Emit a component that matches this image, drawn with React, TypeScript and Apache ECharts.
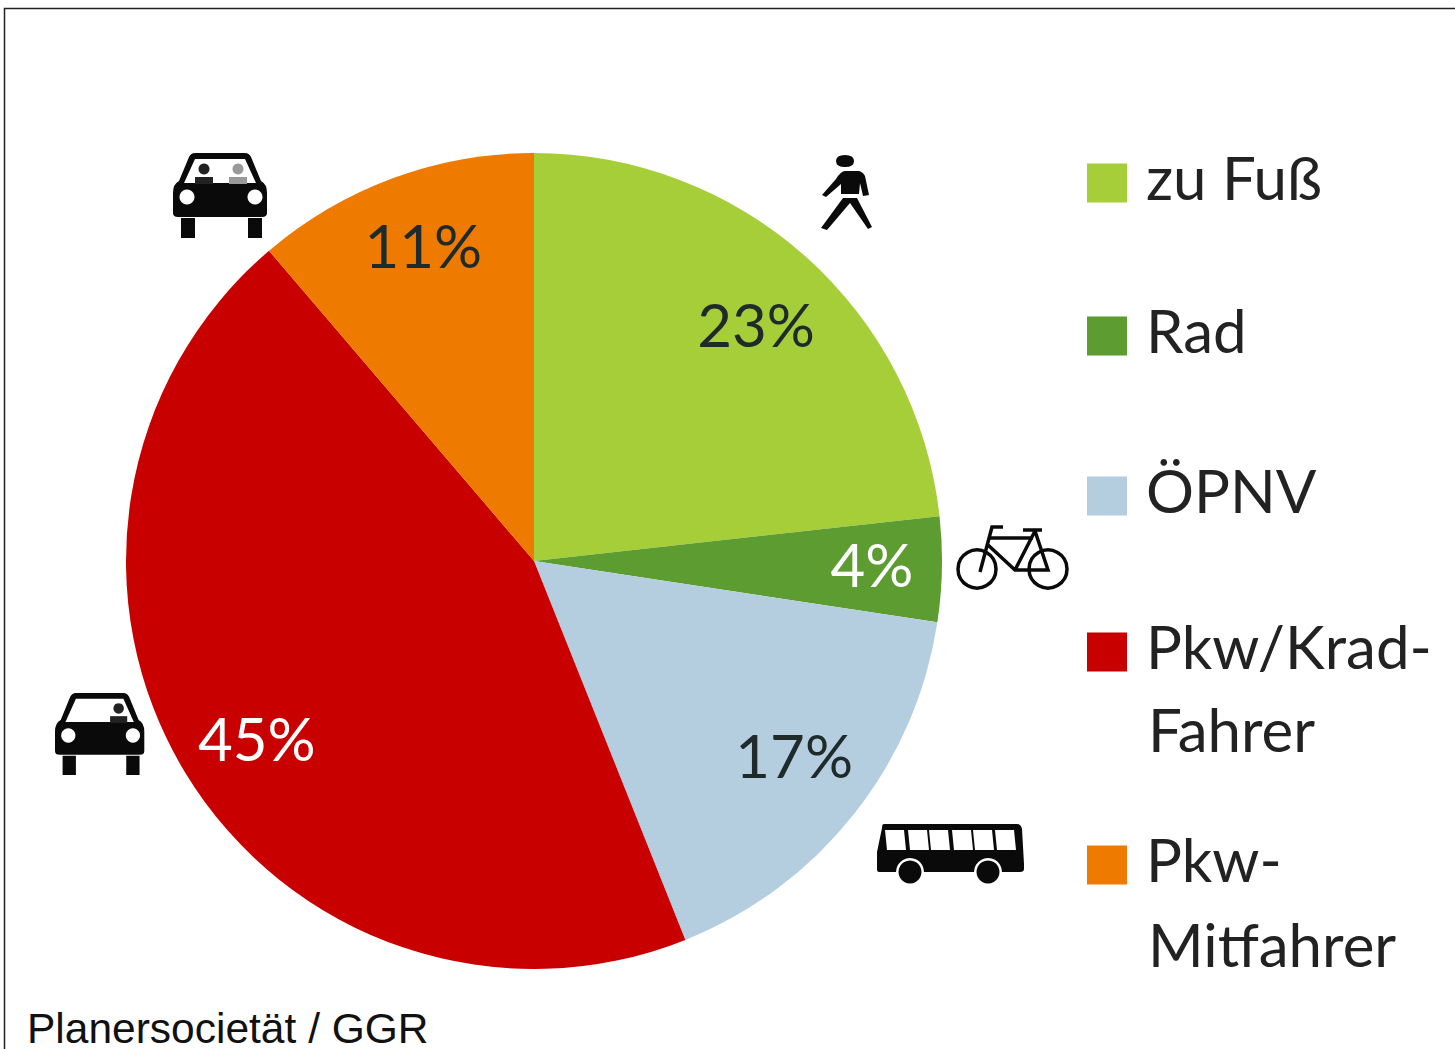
import React, { useEffect, useRef } from "react";
import * as echarts from "echarts";

const categories = ["zu Fuß", "Rad", "ÖPNV", "Pkw/Krad-Fahrer", "Pkw-Mitfahrer"];
const values = [23.25, 4.15, 16.55, 44.8, 11.25];
const colors = ["#A6CE39", "#5C9C31", "#B4CEE0", "#C80000", "#EE7B00"];
const labelColors = ["#1f2a2a", "#ffffff", "#1f2a2a", "#ffffff", "#1f2a2a"];
const legendFirstLines = ["zu Fuß", "Rad", "ÖPNV", "Pkw/Krad-", "Pkw-"];
const legendSecondLines = ["", "", "", "Fahrer", "Mitfahrer"];
const legendSecondLineY = [0, 0, 0, 729, 944];
const legendTops = [147, 300, 460, 616, 829];
const labelShift = [[84, -83], [131, -1], [98, 65], [-100, 70], [-39, -122]];
const footer = "Planersocietät / GGR";

const FONT = "Lato";

echarts.graphic.registerShape("carBody", echarts.graphic.extendPath(
  "M22 0 L72 0 Q76 0 78 4 L88 28 Q94 31 94 40 L94 60 Q94 64 89 64 L5 64 Q0 64 0 60 L0 40 Q0 31 6 28 L16 4 Q18 0 22 0 Z M75 65 L89 65 L89 85 L75 85 Z M8 65 L22 65 L22 85 L8 85 Z", {}));
echarts.graphic.registerShape("windscreen", echarts.graphic.extendPath(
  "M22 6 L72 6 L83 30 L11 30 Z", {}));
echarts.graphic.registerShape("walker", echarts.graphic.extendPath(
  "M24 -1 Q33 -1 33 5 Q33 11 24 11 Q15 11 15 5 Q15 -1 24 -1 Z M24 15 L38 15 Q42 16 44 20 L48 39 L42 40 L39 27 L38 38 L20 38 L20 28 L5 41 L1 39 L15 23 Q20 15 24 15 Z M22 42 L36 42 L51 71 L47 73 L29 47 L6 74 L0 72 Z", {}));
echarts.graphic.registerShape("bikeFrame", echarts.graphic.extendPath(
  "M46 2 L35 2 L23 47 M33 13 L76 13 M66 5 L85 5 M78 6 L58 45 M31 20 L58 45 L91 45 L78 6", {}));
echarts.graphic.registerShape("busBody", echarts.graphic.extendPath(
  "M7 0 L140 0 Q144 0 145 5 L147 40 L147 45 Q147 48 143 48 L2 48 Q0 48 0 45 L0 28 L5 4 Q5 0 7 0 Z", {}));
echarts.graphic.registerShape("busWindow", echarts.graphic.extendPath(
  "M0 0 L19 0 L21 20 L2 20 Z", {}));

const ink = { fill: "#0a0a0a" };
const white = { fill: "#ffffff" };

function car(x: number, y: number, sx: number, sy: number, people: { px: number; shade: string }[]) {
  return {
    type: "group", x, y, scaleX: sx, scaleY: sy, silent: true,
    children: [
      { type: "carBody", style: ink },
      { type: "windscreen", style: white },
      ...people.flatMap(({ px, shade }) => [
        { type: "circle", shape: { cx: px, cy: 16, r: 5.5 }, style: { fill: shade } },
        { type: "rect", shape: { x: px - 9, y: 24, width: 18, height: 7 }, style: { fill: shade } },
      ]),
      { type: "circle", shape: { cx: 14, cy: 44, r: 7.5 }, style: white },
      { type: "circle", shape: { cx: 82, cy: 44, r: 7.5 }, style: white },
    ],
  };
}

function bike(x: number, y: number) {
  const line = { fill: "none", stroke: "#0a0a0a", lineWidth: 3.5 };
  return {
    type: "group", x, y, silent: true,
    children: [
      { type: "circle", shape: { cx: 20, cy: 44, r: 19 }, style: line },
      { type: "circle", shape: { cx: 91, cy: 44, r: 19 }, style: line },
      { type: "bikeFrame", style: line },
    ],
  };
}

function bus(x: number, y: number) {
  const wheels = [33, 111];
  const windows = [8, 31, 52, 75, 96, 118];
  return {
    type: "group", x, y, silent: true,
    children: [
      { type: "busBody", style: ink },
      ...windows.map((wx) => ({ type: "busWindow", x: wx, y: 6, style: white })),
      ...wheels.flatMap((cx) => [
        { type: "circle", shape: { cx, cy: 48, r: 14 }, style: white },
        { type: "circle", shape: { cx, cy: 48, r: 11.5 }, style: ink },
      ]),
    ],
  };
}

export default function App() {
  const ref = useRef<HTMLDivElement>(null);
  useEffect(() => {
    document.body.style.margin = "0";
    const chart = echarts.init(ref.current!, null, { renderer: "svg" });
    chart.setOption({
      animation: false,
      backgroundColor: "#ffffff",
      legend: categories.map((name, i) => ({
        data: [name],
        left: 1087,
        top: legendTops[i],
        padding: 0,
        itemWidth: 40,
        itemHeight: 39,
        itemGap: 0,
        icon: "rect",
        selectedMode: false,
        formatter: () => `{a|${legendFirstLines[i]}}`,
        textStyle: {
          rich: { a: { fontFamily: FONT, fontSize: 60, color: "#222", padding: [0, 0, 12, 14] } },
        },
      })),
      series: [
        {
          type: "pie",
          center: [534, 561],
          radius: [0, 408],
          startAngle: 90,
          clockwise: true,
          silent: true,
          data: categories.map((name, i) => ({
            name,
            value: values[i],
            itemStyle: { color: colors[i] },
            label: { color: labelColors[i] },
          })),
          label: {
            show: true,
            position: "inside",
            formatter: (p: any) => `${Math.round(p.value)}%`,
            fontFamily: FONT,
            fontSize: 60,
          },
          labelLine: { show: false },
          labelLayout: (p: any) => ({ dx: labelShift[p.dataIndex][0], dy: labelShift[p.dataIndex][1] }),
        },
      ],
      graphic: [
        { type: "polyline", silent: true, shape: { points: [[4.5, 1049], [4.5, 8.5], [1455, 8.5]] }, style: { fill: "none", stroke: "#222", lineWidth: 1.5 } },
        ...legendSecondLines.map((t, i) => t ? ({
          type: "text", silent: true, x: 1148, y: legendSecondLineY[i],
          style: { text: t, fontFamily: FONT, fontSize: 60, fill: "#222", textVerticalAlign: "middle" },
        }) : null).filter(Boolean),
        { type: "text", silent: true, x: 27, y: 1028, style: { text: footer, fontFamily: "Liberation Sans", fontSize: 42.5, fill: "#111", textVerticalAlign: "middle" } },
        car(173, 153, 1, 1, [{ px: 31, shade: "#222" }, { px: 65, shade: "#999" }]),
        car(55, 693, 0.95, 0.965, [{ px: 67, shade: "#222" }]),
        bike(957, 525),
        bus(877, 824),
        { type: "walker", x: 821, y: 156, style: ink, silent: true },
      ],
    });
    return () => chart.dispose();
  }, []);
  return <div ref={ref} style={{ width: 1455, height: 1049 }} />;
}
